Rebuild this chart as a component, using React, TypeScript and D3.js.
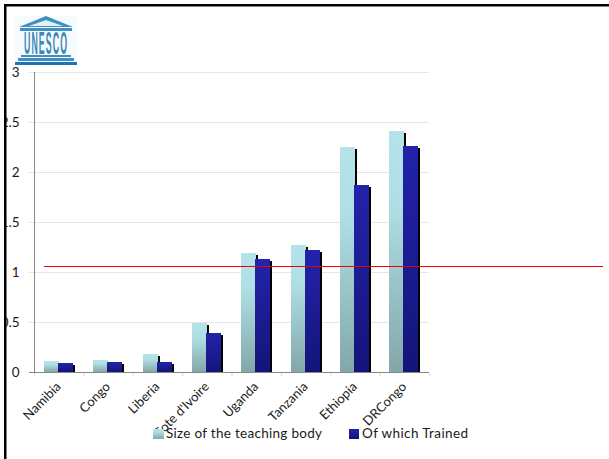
import React from "react";
import * as d3 from "d3";

const categories = ["Namibia", "Congo", "Liberia", "Cote d'Ivoire", "Uganda", "Tanzania", "Ethiopia", "DRCongo"];
const teachingBody = [0.11, 0.12, 0.18, 0.49, 1.19, 1.27, 2.25, 2.41];
const trained = [0.09, 0.1, 0.1, 0.39, 1.13, 1.22, 1.87, 2.26];
const yTicks = [0, 0.5, 1, 1.5, 2, 2.5, 3];
const referenceLevel = 1.05;
const legendLabels = ["Size of the teaching body", "Of which Trained"];

const W = 609;
const H = 459;
const FONT = "Lato, 'Open Sans', sans-serif";

const x = d3.scaleBand<string>().domain(categories).range([34, 429]);
const y = d3.scaleLinear().domain([0, 3]).range([372, 72]);

const BAR_W = 15;
const SHADOW = 2;

function Bars({ values, offset, fill }: { values: number[]; offset: number; fill: string }) {
  return (
    <g>
      {values.map((v, i) => {
        const cx = x(categories[i])! + x.bandwidth() / 2;
        const left = Math.floor(cx + offset);
        const top = Math.round(y(v));
        const base = y(0);
        return (
          <g key={categories[i]}>
            <rect x={left + SHADOW} y={top + SHADOW} width={BAR_W} height={base - top - SHADOW} fill="#000" />
            <rect x={left} y={top} width={BAR_W} height={base - top} fill={fill} />
          </g>
        );
      })}
    </g>
  );
}

// The UNESCO temple emblem: pediment, lettered columns and stepped base.
function Emblem() {
  const blue = "#3f8fc1";
  const dark = "#1f74b5";
  return (
    <g>
      <rect x={15} y={16} width={62} height={49} fill="#f6fcfd" />
      <polygon points="46,16 73,27 19,27" fill={blue} />
      <polygon points="46,20 63,26 29,26" fill="#dff0f7" />
      <rect x={20} y={28} width={52} height={3} fill={blue} />
      <text
        transform="translate(24,54) scale(0.7,2.45)"
        fontFamily="'Liberation Sans', sans-serif"
        fontWeight={700}
        fontSize={12.5}
        letterSpacing={1.6}
        fill="#3b86b5"
      >
        UNESCO
      </text>
      <rect x={21} y={55} width={50} height={2} fill={blue} />
      <rect x={18} y={58} width={56} height={3} fill={blue} />
      <rect x={15} y={62} width={62} height={3} fill={dark} />
    </g>
  );
}

export default function App() {
  const legendY = 438;
  const levelY = Math.floor(y(referenceLevel)) + 0.5;
  return (
    <svg
      width={W}
      height={H}
      viewBox={`0 0 ${W} ${H}`}
      style={{ position: "absolute", left: 0, top: 0, display: "block", background: "#fff" }}
    >
      <defs>
        <linearGradient id="tealFill" x1="0" y1="0" x2="0" y2="1">
          <stop offset="0" stopColor="#b4e4e9" />
          <stop offset="0.3" stopColor="#afdfe4" />
          <stop offset="1" stopColor="#83a7a9" />
        </linearGradient>
        <linearGradient id="navyFill" x1="0" y1="0" x2="0" y2="1">
          <stop offset="0" stopColor="#2323ab" />
          <stop offset="1" stopColor="#14147a" />
        </linearGradient>
      </defs>

      <Emblem />

      {yTicks.map((t) => (
        <line key={t} x1={29} x2={429} y1={y(t) + 0.5} y2={y(t) + 0.5} stroke="#e6e6e6" />
      ))}

      <Bars values={teachingBody} offset={-14.35} fill="url(#tealFill)" />
      <Bars values={trained} offset={-0.35} fill="url(#navyFill)" />

      <line x1={34.5} x2={34.5} y1={72} y2={372} stroke="#868686" />
      <line x1={29} x2={429} y1={372.5} y2={372.5} stroke="#868686" />
      {[...categories.map((c) => x(c)!), 429].map((px) => (
        <line key={px} x1={px + 0.5} x2={px + 0.5} y1={373} y2={376} stroke="#d9d9d9" />
      ))}

      {yTicks.map((t) => (
        <text key={t} x={19.5} y={y(t) + 4.5} textAnchor="end" fontFamily={FONT} fontSize={13.5} fill="#1a1a1a">
          {t}
        </text>
      ))}

      {categories.map((c) => {
        const cx = x(c)! + x.bandwidth() / 2;
        return (
          <text
            key={c}
            transform={`translate(${cx + 3},387.5) rotate(-45)`}
            textAnchor="end"
            fontFamily={FONT}
            fontSize={13}
            fill="#1a1a1a"
          >
            {c}
          </text>
        );
      })}

      <line x1={44} x2={603} y1={levelY} y2={levelY} stroke="#f00000" strokeWidth={1} />

      <rect x={153} y={429} width={11} height={10} fill="url(#tealFill)" />
      <text x={166} y={legendY} fontFamily={FONT} fontSize={13.5} fill="#1a1a1a" textLength={156}>
        {legendLabels[0]}
      </text>
      <rect x={349} y={429} width={10} height={10} fill="url(#navyFill)" />
      <text x={362} y={legendY} fontFamily={FONT} fontSize={13.5} fill="#1a1a1a" textLength={106}>
        {legendLabels[1]}
      </text>

      {/* Page frame: only the top and left edges are drawn */}
      <rect x={0} y={0} width={4} height={H} fill="#fff" />
      <rect x={4} y={4} width={W - 4} height={2.5} fill="#000" />
      <rect x={4} y={4} width={2.5} height={H - 4} fill="#000" />
    </svg>
  );
}
